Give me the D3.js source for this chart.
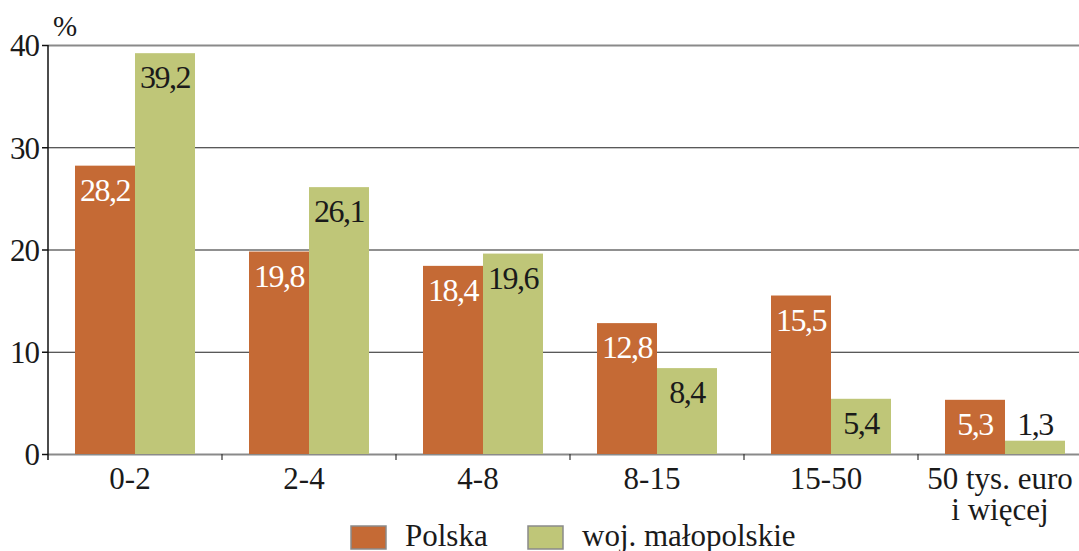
<!DOCTYPE html>
<html><head><meta charset="utf-8"><script src="https://cdn.jsdelivr.net/npm/d3@7"></script>
<style>
@font-face { font-family: "ChartSerif"; src: local("Liberation Serif"), local("LiberationSerif"), local("LiberationSerif-Regular"), local("Tinos"), local("FreeSerif"); }
</style>
</head>
<body style="margin:0">
<script>
// data
var categories = ["0-2", "2-4", "4-8", "8-15", "15-50", "50 tys. euro\ni więcej"];
var polska = [28.2, 19.8, 18.4, 12.8, 15.5, 5.3];
var malopolska = [39.2, 26.1, 19.6, 8.4, 5.4, 1.3];
var seriesNames = ["Polska", "woj. małopolskie"];
var yTicks = [0, 10, 20, 30, 40];

var W = 1079, H = 551;
var colors = ["#c56a35", "#bfc678"];
var FONT = "'Liberation Serif', Tinos, FreeSerif, 'Times New Roman', ChartSerif";
var INK = "#1a1a1a";

var svg = d3.select("body").append("svg")
  .attr("width", W)
  .attr("height", H)
  .attr("font-family", FONT)
  .style("display", "block");

function serif(sel, size) {
  return sel.attr("font-family", FONT)
    .attr("font-size", size)
    .attr("fill", INK);
}

var x = d3.scaleBand()
  .domain(categories)
  .range([48, 1092]);

var y = d3.scaleLinear()
  .domain([0, 40])
  .range([454, 45]);

var barW = 60;

// gridlines
svg.append("g").selectAll("line")
  .data(yTicks)
  .enter().append("line")
  .attr("x1", 48).attr("x2", W)
  .attr("y1", function(d) { return y(d) + 0.5; })
  .attr("y2", function(d) { return y(d) + 0.5; })
  .attr("stroke", function(d) { return (d == 0 || d == 40) ? "#8a8a8a" : "#222"; })
  .attr("stroke-width", function(d) { return (d == 0 || d == 40) ? 2 : 1.2; });

// y axis
var yAxis = svg.append("g")
  .attr("transform", "translate(48,0)")
  .call(d3.axisLeft(y).tickValues(yTicks).tickSize(6).tickPadding(3));
yAxis.attr("font-family", FONT);
yAxis.select(".domain").remove();
yAxis.append("line")
  .attr("x1", 0).attr("x2", 0)
  .attr("y1", y(40)).attr("y2", y(0) + 6)
  .attr("stroke", "#111").attr("stroke-width", 1.5);
yAxis.selectAll(".tick line").attr("stroke", "#111").attr("stroke-width", 1.5);
serif(yAxis.selectAll(".tick text"), 31)
  .attr("letter-spacing", "-1")
  .attr("dy", "0.35em");

serif(svg.append("text"), 29)
  .attr("x", 53).attr("y", 36)
  .text("%");

// category boundary ticks
svg.append("g").selectAll("line")
  .data(categories.slice(1))
  .enter().append("line")
  .attr("x1", function(d) { return x(d); })
  .attr("x2", function(d) { return x(d); })
  .attr("y1", y(0)).attr("y2", y(0) + 6)
  .attr("stroke", "#333").attr("stroke-width", 1.2);

// bars
var rows = categories.map(function(c, i) {
  return [
    { cat: c, s: 0, v: polska[i] },
    { cat: c, s: 1, v: malopolska[i] }
  ];
});
var flat = d3.merge(rows);

function barX(d) { return x(d.cat) + x.bandwidth() / 2 - barW + d.s * barW; }

svg.append("g").selectAll("rect")
  .data(flat)
  .enter().append("rect")
  .attr("x", barX)
  .attr("width", barW)
  .attr("y", function(d) { return y(d.v); })
  .attr("height", function(d) { return y(0) - y(d.v); })
  .attr("fill", function(d) { return colors[d.s]; });

// value labels
serif(svg.append("g").selectAll("text")
  .data(flat)
  .enter().append("text"), 32)
  .attr("x", function(d) { return barX(d) + barW / 2; })
  .attr("y", function(d) {
    var top = y(d.v);
    return (y(0) - top) < 40 ? top - 6 : top + 35;
  })
  .attr("text-anchor", "middle")
  .attr("fill", function(d) { return (d.s == 0) ? "#fff" : INK; })
  .attr("letter-spacing", "-1.5")
  .text(function(d) { return String(d.v).replace(".", ","); });

// category labels
var catLabels = serif(svg.append("g").selectAll("text")
  .data(categories)
  .enter().append("text"), 31)
  .attr("x", function(d) { return x(d) + x.bandwidth() / 2 - 5; })
  .attr("y", 489)
  .attr("text-anchor", "middle");
catLabels.each(function(d) {
  var lines = d.split("\n");
  var t = d3.select(this);
  lines.forEach(function(l, i) {
    t.append("tspan")
      .attr("x", t.attr("x"))
      .attr("dy", i == 0 ? 0 : 31)
      .text(l);
  });
});

// legend
var legend = svg.append("g").selectAll("g")
  .data(seriesNames)
  .enter().append("g")
  .attr("transform", function(d, i) { return "translate(" + [351, 528][i] + ",526)"; });
legend.append("rect")
  .attr("width", 35).attr("height", 23)
  .attr("fill", function(d, i) { return colors[i]; })
  .attr("stroke", "#8a8a8a").attr("stroke-width", 1.5);
serif(legend.append("text"), 31)
  .attr("x", 54).attr("y", 20)
  .text(function(d) { return d; });
</script>
</body>
</html>
